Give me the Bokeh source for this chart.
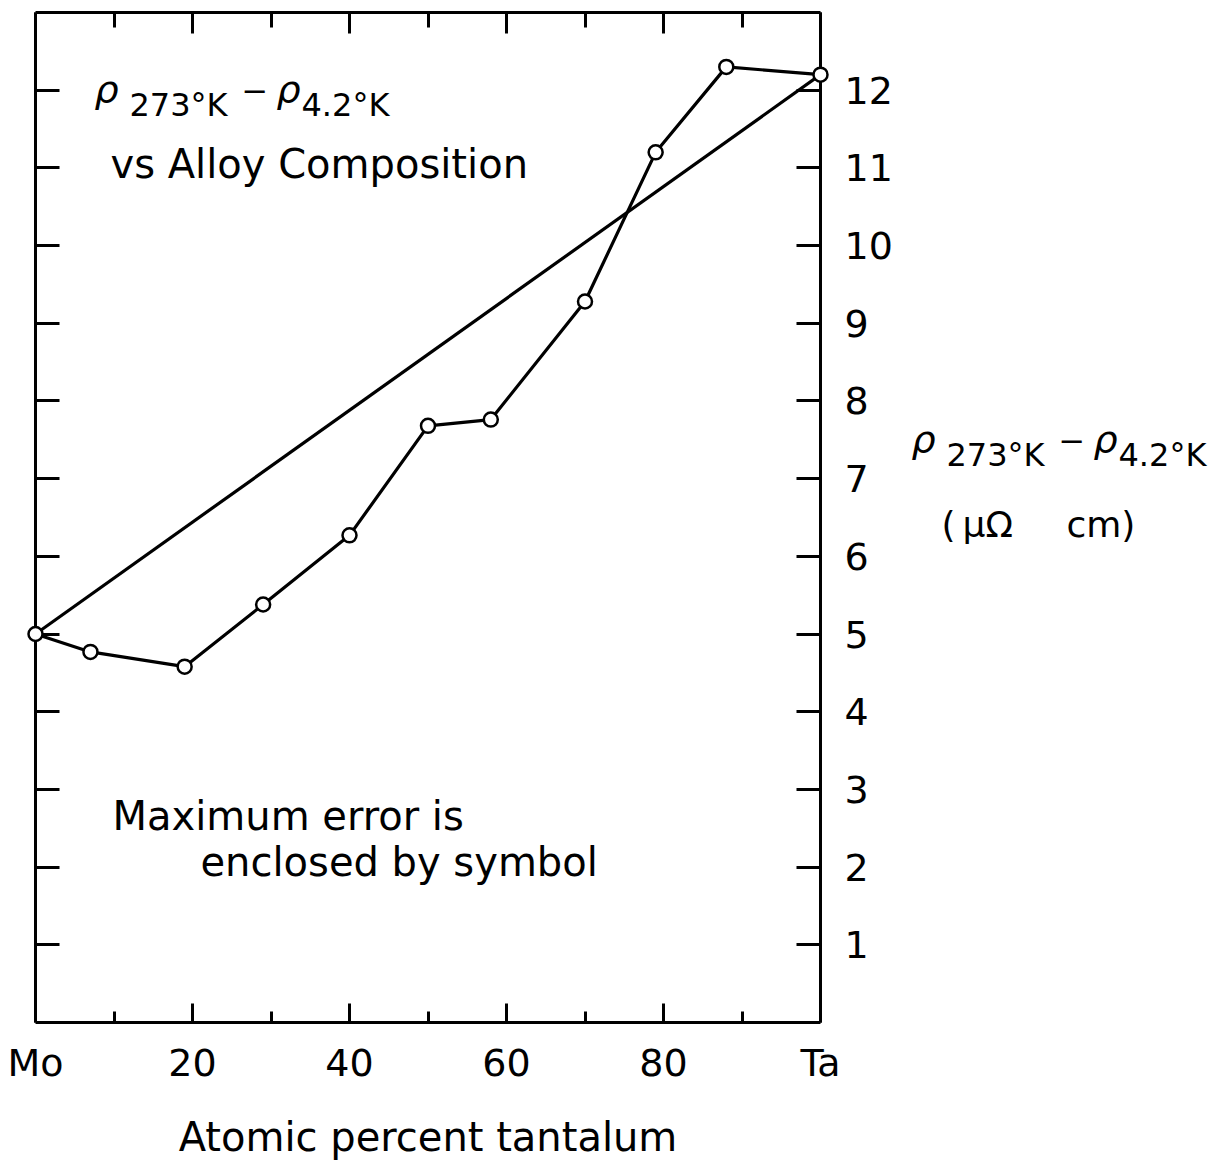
from bokeh.plotting import figure
from bokeh.models import LinearAxis, FixedTicker, Range1d
from bokeh.core.properties import value
from bokeh.embed import file_html
from bokeh.resources import INLINE

# ---- data ----
ta_pct = [0, 7, 19, 29, 40, 50, 58, 70, 79, 88, 100]
rho_diff = [5.0, 4.77, 4.58, 5.38, 6.27, 7.68, 7.76, 9.28, 11.2, 12.3, 12.2]
linear_x = [0, 100]
linear_y = [5.0, 12.2]

x_major = [0, 20, 40, 60, 80, 100]
x_minor = [10, 30, 50, 70, 90]
x_labels = {0: "Mo", 100: "Ta"}
y_ticks = [1, 2, 3, 4, 5, 6, 7, 8, 9, 10, 11, 12]
x_title = "Atomic percent tantalum"

FONT = "DejaVu Sans"

# frame placement in page pixels (used only for annotation text placement)
L, R, T, B = 35, 820, 12, 1022
XMAX, YMAX = 100, 13
TEXT_SHIFT = 13


def dx(px):
    return (px - L) / (R - L) * XMAX


def dy(py):
    return (B - (py - TEXT_SHIFT)) / (B - T) * YMAX


p = figure(frame_width=R - L, frame_height=B - T,
           x_range=Range1d(0, XMAX), y_range=Range1d(0, YMAX),
           x_axis_location=None, y_axis_location=None,
           output_backend="svg", toolbar_location=None,
           min_border_left=L, min_border_right=1228 - R,
           min_border_top=T, min_border_bottom=1159 - B,
           background_fill_color="white", border_fill_color="white")
p.outline_line_color = None
p.grid.visible = False


def style_axis(ax, tick_in, minor_in, standoff):
    ax.axis_line_color = "black"
    ax.axis_line_width = 3
    ax.major_tick_line_color = "black"
    ax.major_tick_line_width = 3
    ax.minor_tick_line_color = "black"
    ax.minor_tick_line_width = 3
    ax.major_tick_in = tick_in
    ax.major_tick_out = 0
    ax.minor_tick_in = minor_in
    ax.minor_tick_out = 0
    ax.major_label_text_font = FONT
    ax.major_label_text_color = "black"
    ax.major_label_text_font_size = "38px"
    ax.major_label_standoff = standoff


xb = LinearAxis(ticker=FixedTicker(ticks=x_major, minor_ticks=x_minor),
                major_label_overrides=x_labels)
style_axis(xb, 19, 11, 18)
xb.axis_label = x_title
xb.axis_label_text_font = FONT
xb.axis_label_text_font_size = "40px"
xb.axis_label_text_font_style = "normal"
xb.axis_label_text_color = "black"
xb.axis_label_standoff = 26
p.add_layout(xb, "below")

xt = LinearAxis(ticker=FixedTicker(ticks=x_major, minor_ticks=x_minor),
                major_label_overrides={t: "" for t in x_major})
style_axis(xt, 21, 15, 0)
p.add_layout(xt, "above")

yl = LinearAxis(ticker=FixedTicker(ticks=y_ticks, minor_ticks=[]),
                major_label_overrides={t: "" for t in y_ticks})
style_axis(yl, 24, 0, 0)
p.add_layout(yl, "left")

yr = LinearAxis(ticker=FixedTicker(ticks=y_ticks, minor_ticks=[]))
style_axis(yr, 24, 0, 24)
p.add_layout(yr, "right")

# ---- marks ----
p.line(linear_x, linear_y, line_color="black", line_width=3.2)
p.line(ta_pct, rho_diff, line_color="black", line_width=3.2)
pts = p.scatter(ta_pct, rho_diff, marker="circle", size=14,
                fill_color="white", line_color="black", line_width=2.5)
pts.level = "overlay"


# ---- annotation text (text glyphs on the overlay level, not clipped) ----
def lab(px, py, text, size, style="normal"):
    r = p.text(x=[dx(px)], y=[dy(py)], text=[text],
               text_font=value(FONT), text_font_size=value(size),
               text_font_style=style, text_color="black",
               text_align="left", text_baseline="alphabetic")
    r.level = "overlay"


def rho_expr(x0, base, sub_base):
    lab(x0, base, "ρ", "38px", "italic")
    lab(x0 + 35, sub_base, "273°K", "32px")
    lab(x0 + 147, base + 2, "−", "32px")
    lab(x0 + 182, base, "ρ", "38px", "italic")
    lab(x0 + 207, sub_base, "4.2°K", "32px")


rho_expr(94, 101, 117)
lab(110, 176, "vs Alloy Composition", "40px")
lab(112, 828, "Maximum error is", "40px")
lab(200, 874, "enclosed by symbol", "40px")

rho_expr(911, 451, 467)
lab(941, 537, "(", "36px")
lab(962, 537, "μΩ", "36px")
lab(1066, 537, "cm)", "36px")

open("out.html", "w").write(file_html(p, INLINE))
